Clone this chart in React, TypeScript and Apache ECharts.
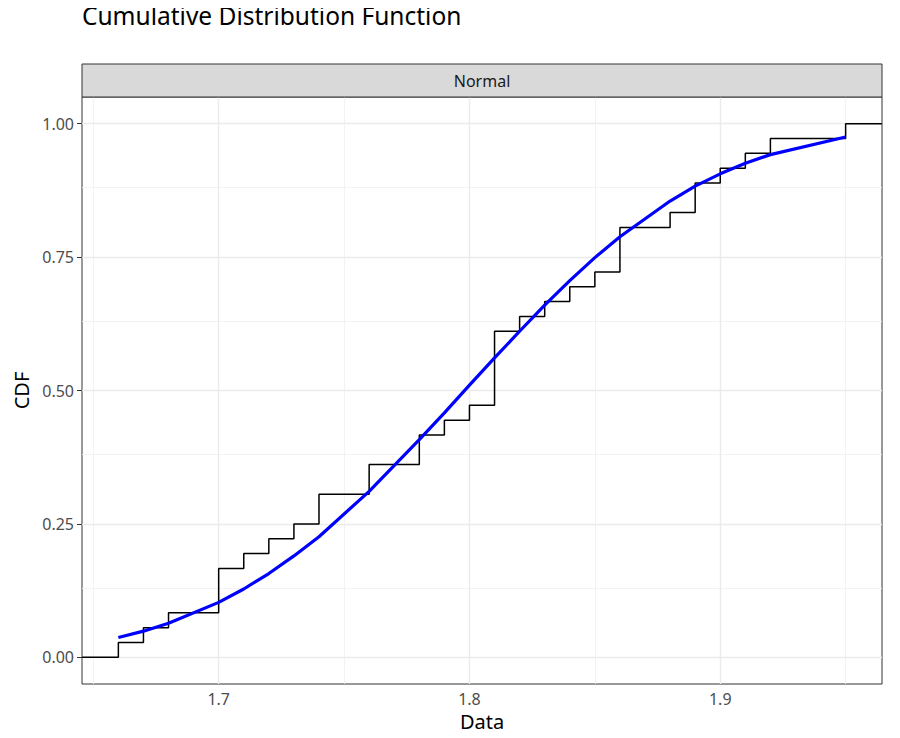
import React, { useEffect, useRef } from "react";
import * as echarts from "echarts";

// Empirical CDF: unique data values and cumulative counts (n = 36)
const sampleSize = 36;
const ecdfX = [1.66, 1.67, 1.68, 1.7, 1.71, 1.72, 1.73, 1.74, 1.76, 1.78, 1.79, 1.8, 1.81, 1.82, 1.83, 1.84, 1.85, 1.86, 1.88, 1.89, 1.9, 1.91, 1.92, 1.95];
const ecdfCount = [1, 2, 3, 6, 7, 8, 9, 11, 13, 15, 16, 17, 22, 23, 24, 25, 26, 29, 30, 32, 33, 34, 35, 36];
// Fitted normal CDF read at the same x values
const fitY = [0.037, 0.049, 0.064, 0.103, 0.128, 0.157, 0.19, 0.226, 0.311, 0.408, 0.458, 0.51, 0.561, 0.611, 0.66, 0.706, 0.749, 0.788, 0.855, 0.883, 0.906, 0.926, 0.942, 0.975];

const xMin = 1.6455;
const xMax = 1.9645;
const yMin = -0.05;
const yMax = 1.05;
const xMajor = [1.7, 1.8, 1.9];
const xMinor = [1.65, 1.75, 1.85, 1.95];
const yMajor = [0, 0.25, 0.5, 0.75, 1];
const yMinor = [0.125, 0.375, 0.625, 0.875];

const titleText = "Cumulative Distribution Function";
const stripText = "Normal";
const xTitle = "Data";
const yTitle = "CDF";

const FONT = "'Noto Sans', 'Open Sans', sans-serif";

export default function App() {
  const ref = useRef<HTMLDivElement>(null);

  useEffect(() => {
    if (!ref.current) return;
    const chart = echarts.init(ref.current, null, { renderer: "svg" });

    const stepData: number[][] = [[xMin, 0]];
    ecdfX.forEach((x, i) => stepData.push([x, ecdfCount[i] / sampleSize]));
    stepData.push([xMax, 1]);

    const fitData = ecdfX.map((x, i) => [x, fitY[i]]);

    const gridLineData: any[] = [];
    xMinor.forEach((v) => gridLineData.push({ xAxis: v, lineStyle: { color: "#F0F0F0", width: 0.8, type: "solid" } }));
    yMinor.forEach((v) => gridLineData.push({ yAxis: v, lineStyle: { color: "#F0F0F0", width: 0.8, type: "solid" } }));
    xMajor.forEach((v) => gridLineData.push({ xAxis: v, lineStyle: { color: "#EBEBEB", width: 1.4, type: "solid" } }));
    yMajor.forEach((v) => gridLineData.push({ yAxis: v, lineStyle: { color: "#EBEBEB", width: 1.4, type: "solid" } }));

    chart.setOption({
      animation: false,
      backgroundColor: "#FFFFFF",
      textStyle: { fontFamily: FONT },
      grid: {
        left: 82,
        top: 97,
        width: 800,
        height: 587,
        show: true,
        borderColor: "#333333",
        borderWidth: 1,
        backgroundColor: "transparent",
        containLabel: false,
        outerBoundsMode: "none",
      },
      xAxis: {
        type: "value",
        min: xMin,
        max: xMax,
        name: xTitle,
        nameLocation: "middle",
        nameGap: 27,
        nameTextStyle: { fontFamily: FONT, fontSize: 20, color: "#000000" },
        axisLine: { show: false },
        splitLine: { show: false },
        axisTick: { show: true, customValues: xMajor, length: 5, lineStyle: { color: "#333333", width: 1 } },
        axisLabel: {
          customValues: xMajor,
          color: "#4D4D4D",
          fontSize: 16,
          fontFamily: FONT,
          margin: 7,
          formatter: (v: number) => v.toFixed(1),
        },
      },
      yAxis: {
        type: "value",
        min: yMin,
        max: yMax,
        name: yTitle,
        nameLocation: "middle",
        nameGap: 49,
        nameRotate: 90,
        nameTextStyle: { fontFamily: FONT, fontSize: 20, color: "#000000" },
        axisLine: { show: false },
        splitLine: { show: false },
        axisTick: { show: true, customValues: yMajor, length: 5, lineStyle: { color: "#333333", width: 1 } },
        axisLabel: {
          customValues: yMajor,
          color: "#4D4D4D",
          fontSize: 16,
          fontFamily: FONT,
          margin: 8,
          formatter: (v: number) => v.toFixed(2),
        },
      },
      graphic: [
        {
          type: "text",
          x: 82,
          y: 15,
          style: {
            text: titleText,
            fill: "#000000",
            font: `24.5px ${FONT}`,
            align: "left",
            verticalAlign: "middle",
          },
          z: 11,
        },
        {
          type: "rect",
          shape: { x: 82, y: 64, width: 800, height: 33 },
          style: { fill: "#D9D9D9", stroke: "#333333", lineWidth: 1 },
          z: 10,
        },
        {
          type: "text",
          x: 482,
          y: 81,
          style: {
            text: stripText,
            fill: "#1A1A1A",
            font: `16px ${FONT}`,
            align: "center",
            verticalAlign: "middle",
          },
          z: 11,
        },
      ],
      series: [
        {
          type: "line",
          data: [],
          silent: true,
          z: 1,
          markLine: {
            silent: true,
            z: 1,
            symbol: ["none", "none"],
            label: { show: false },
            animation: false,
            data: gridLineData,
          },
        },
        {
          type: "line",
          name: "ECDF",
          data: stepData,
          step: "end",
          showSymbol: false,
          symbol: "none",
          lineStyle: { color: "#000000", width: 1.5 },
          z: 10,
        },
        {
          type: "line",
          name: "Normal fit",
          data: fitData,
          showSymbol: false,
          symbol: "none",
          lineStyle: { color: "#0000FF", width: 3.2 },
          z: 11,
        },
      ],
    });

    return () => chart.dispose();
  }, []);

  return <div ref={ref} style={{ width: 900, height: 738, margin: -8 }} />;
}
